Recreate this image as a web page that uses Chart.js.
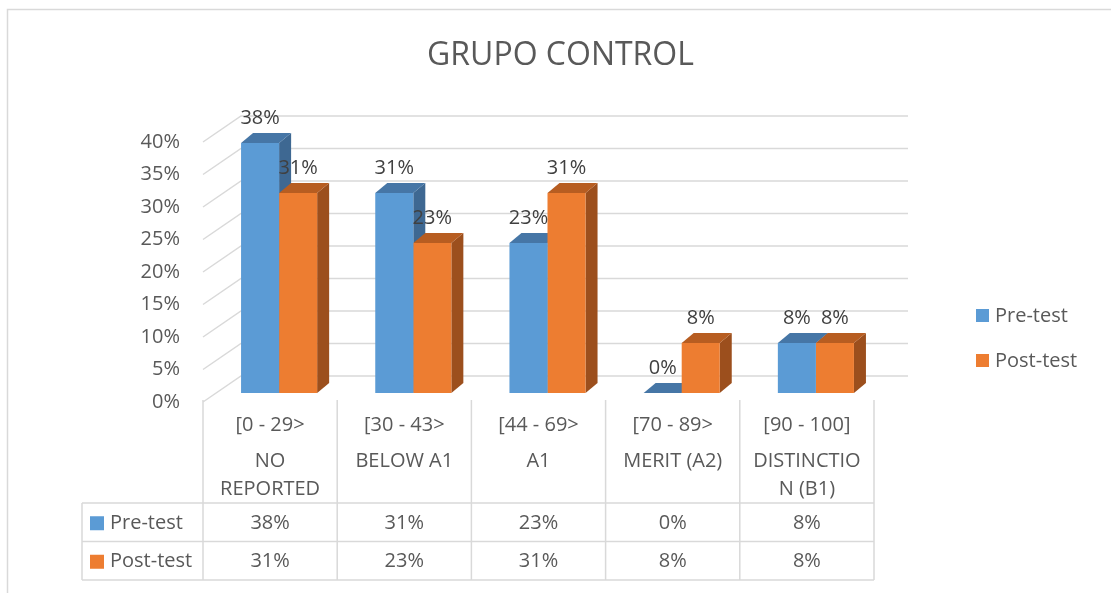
<!DOCTYPE html>
<html>
<head>
<meta charset="utf-8">
<script src="https://cdn.jsdelivr.net/npm/chart.js@4.4.1/dist/chart.umd.min.js"></script>
<style>
  body { margin: 0; background: #fff; }
  #wrap { width: 1111px; height: 593px; }
</style>
</head>
<body>
<div id="wrap"><canvas id="grafico" width="1111" height="593"></canvas></div>
<script>
// Datos (alturas de las barras, etiquetas redondeadas)
const ranges = ['[0 - 29>', '[30 - 43>', '[44 - 69>', '[70 - 89>', '[90 - 100]'];
const levels = [['NO', 'REPORTED'], ['BELOW A1'], ['A1'], ['MERIT (A2)'], ['DISTINCTIO', 'N (B1)']];
const seriesNames = ['Pre-test', 'Post-test'];
const preTest = [38.46, 30.77, 23.08, 0, 7.69];
const postTest = [30.77, 23.08, 30.77, 7.69, 7.69];
const yMin = 0, yMax = 40, yStep = 5;

const FONT = "'Open Sans', sans-serif";
const TXT = '#595959';
const GRID = '#d9d9d9';
const fronts = ['#5b9bd5', '#ed7d31'];
const tops = ['#4676a6', '#b75d21'];
const sides = ['#3e6892', '#9c4f1d'];

const pct = v => Math.round(v) + '%';

// desplazamientos de la perspectiva
const FRONT = { x: -9, y: 9 };
const BACK = { x: 29, y: -17 };
const DEPTH = { x: 12, y: 10 };

const escena3d = {
  id: 'escena3d',
  beforeDraw(chart) {
    const c = chart.ctx;
    c.save();
    c.fillStyle = '#fff';
    c.fillRect(0, 0, chart.width, chart.height);
    c.strokeStyle = GRID;
    c.lineWidth = 1.5;
    c.beginPath();
    c.moveTo(7.5, chart.height);
    c.lineTo(7.5, 9.5);
    c.lineTo(chart.width, 9.5);
    c.stroke();
    c.restore();
  },
  beforeDatasetsDraw(chart) {
    const c = chart.ctx;
    const ys = chart.scales.y;
    const area = chart.chartArea;
    c.save();
    // paredes: lineas de la cuadricula
    c.strokeStyle = GRID;
    c.lineWidth = 1.5;
    ys.ticks.forEach(t => {
      const y = ys.getPixelForValue(t.value);
      c.beginPath();
      c.moveTo(area.left + FRONT.x, y + FRONT.y);
      c.lineTo(area.left + BACK.x, y + BACK.y);
      c.lineTo(area.right + 25, y + BACK.y);
      c.stroke();
    });
    // caras laterales y superiores de las barras
    const n = chart.data.labels.length;
    for (let i = 0; i < n; i++) {
      chart.data.datasets.forEach((ds, d) => {
        const bar = chart.getDatasetMeta(d).data[i];
        const p = bar.getProps(['x', 'y', 'base', 'width'], true);
        const l = p.x - p.width / 2, r = p.x + p.width / 2;
        c.fillStyle = sides[d];
        c.beginPath();
        c.moveTo(r, p.y);
        c.lineTo(r + DEPTH.x, p.y - DEPTH.y);
        c.lineTo(r + DEPTH.x, p.base - DEPTH.y);
        c.lineTo(r, p.base);
        c.closePath();
        c.fill();
        c.fillStyle = tops[d];
        c.beginPath();
        c.moveTo(l, p.y);
        c.lineTo(l + DEPTH.x, p.y - DEPTH.y);
        c.lineTo(r + DEPTH.x, p.y - DEPTH.y);
        c.lineTo(r, p.y);
        c.closePath();
        c.fill();
      });
    }
    c.restore();
  },
  afterDatasetsDraw(chart) {
    const c = chart.ctx;
    c.save();
    c.font = '20px ' + FONT;
    c.fillStyle = '#404040';
    c.textAlign = 'center';
    c.textBaseline = 'middle';
    chart.data.datasets.forEach((ds, d) => {
      chart.getDatasetMeta(d).data.forEach((bar, i) => {
        c.fillText(pct(ds.data[i]), bar.x, bar.y - 25);
      });
    });
    c.restore();
  },
  afterDraw(chart) {
    const c = chart.ctx;
    const xs = chart.scales.x;
    const n = chart.data.labels.length;
    const colW = xs.getPixelForValue(1) - xs.getPixelForValue(0);
    const left = xs.getPixelForValue(0) + FRONT.x - colW / 2;
    const right = xs.getPixelForValue(n - 1) + FRONT.x + colW / 2;
    const tableTop = 400, rowTop = 503, rowH = 38.5, tableLeft = 82;
    const bottom = rowTop + rowH * 2;
    c.save();
    c.strokeStyle = GRID;
    c.lineWidth = 1.5;
    c.beginPath();
    for (let i = 0; i <= n; i++) {
      const x = left + colW * i;
      c.moveTo(x, tableTop);
      c.lineTo(x, bottom);
    }
    c.moveTo(tableLeft, rowTop);
    c.lineTo(tableLeft, bottom);
    for (let r = 0; r <= 2; r++) {
      c.moveTo(tableLeft, rowTop + rowH * r);
      c.lineTo(right, rowTop + rowH * r);
    }
    c.stroke();

    c.font = '20px ' + FONT;
    c.fillStyle = TXT;
    c.textAlign = 'center';
    c.textBaseline = 'middle';
    for (let i = 0; i < n; i++) {
      const cx = xs.getPixelForValue(i) + FRONT.x;
      c.fillText(chart.data.labels[i], cx, 425);
      levels[i].forEach((t, k) => c.fillText(t, cx, 461 + k * 28));
      chart.data.datasets.forEach((ds, d) => {
        c.fillText(pct(ds.data[i]), cx, rowTop + rowH * d + rowH / 2 + 1);
      });
    }
    // claves de la tabla
    c.textAlign = 'left';
    chart.data.datasets.forEach((ds, d) => {
      const cy = rowTop + rowH * d + rowH / 2 + 1;
      c.fillStyle = fronts[d];
      c.fillRect(90, cy - 7, 14, 14);
      c.fillStyle = TXT;
      c.fillText(ds.label, 110, cy);
    });
    // leyenda a la derecha
    chart.data.datasets.forEach((ds, d) => {
      const cy = 316 + d * 45;
      c.fillStyle = fronts[d];
      c.fillRect(976, cy - 7, 13, 13);
      c.fillStyle = TXT;
      c.fillText(ds.label, 995, cy);
    });
    c.restore();
  }
};

new Chart(document.getElementById('grafico'), {
  type: 'bar',
  data: {
    labels: ranges,
    datasets: [
      { label: seriesNames[0], data: preTest, backgroundColor: fronts[0], borderWidth: 0 },
      { label: seriesNames[1], data: postTest, backgroundColor: fronts[1], borderWidth: 0 }
    ]
  },
  options: {
    responsive: false,
    animation: false,
    layout: { padding: { left: 10, right: 0, top: 0, bottom: 200 } },
    datasets: { bar: { categoryPercentage: 0.567, barPercentage: 1 } },
    plugins: {
      legend: { display: false },
      tooltip: { enabled: false },
      title: {
        display: true,
        text: 'GRUPO CONTROL',
        color: TXT,
        font: { family: FONT, size: 32, weight: 'normal', lineHeight: 1.2 },
        padding: { top: 37, bottom: 57.6 }
      }
    },
    scales: {
      x: { display: false },
      y: {
        min: yMin,
        max: yMax,
        afterFit(s) { s.width = 202; },
        grid: { display: false, drawTicks: false },
        border: { display: false },
        ticks: {
          stepSize: yStep,
          padding: 32,
          labelOffset: 9,
          color: TXT,
          font: { family: FONT, size: 20 },
          callback: v => v + '%'
        }
      },
      // espacio reservado para la leyenda de la derecha
      hueco: {
        position: 'right',
        display: true,
        afterFit(s) { s.width = 228; },
        grid: { display: false, drawTicks: false },
        border: { display: false },
        ticks: { display: false }
      }
    }
  },
  plugins: [escena3d]
});
</script>
</body>
</html>
